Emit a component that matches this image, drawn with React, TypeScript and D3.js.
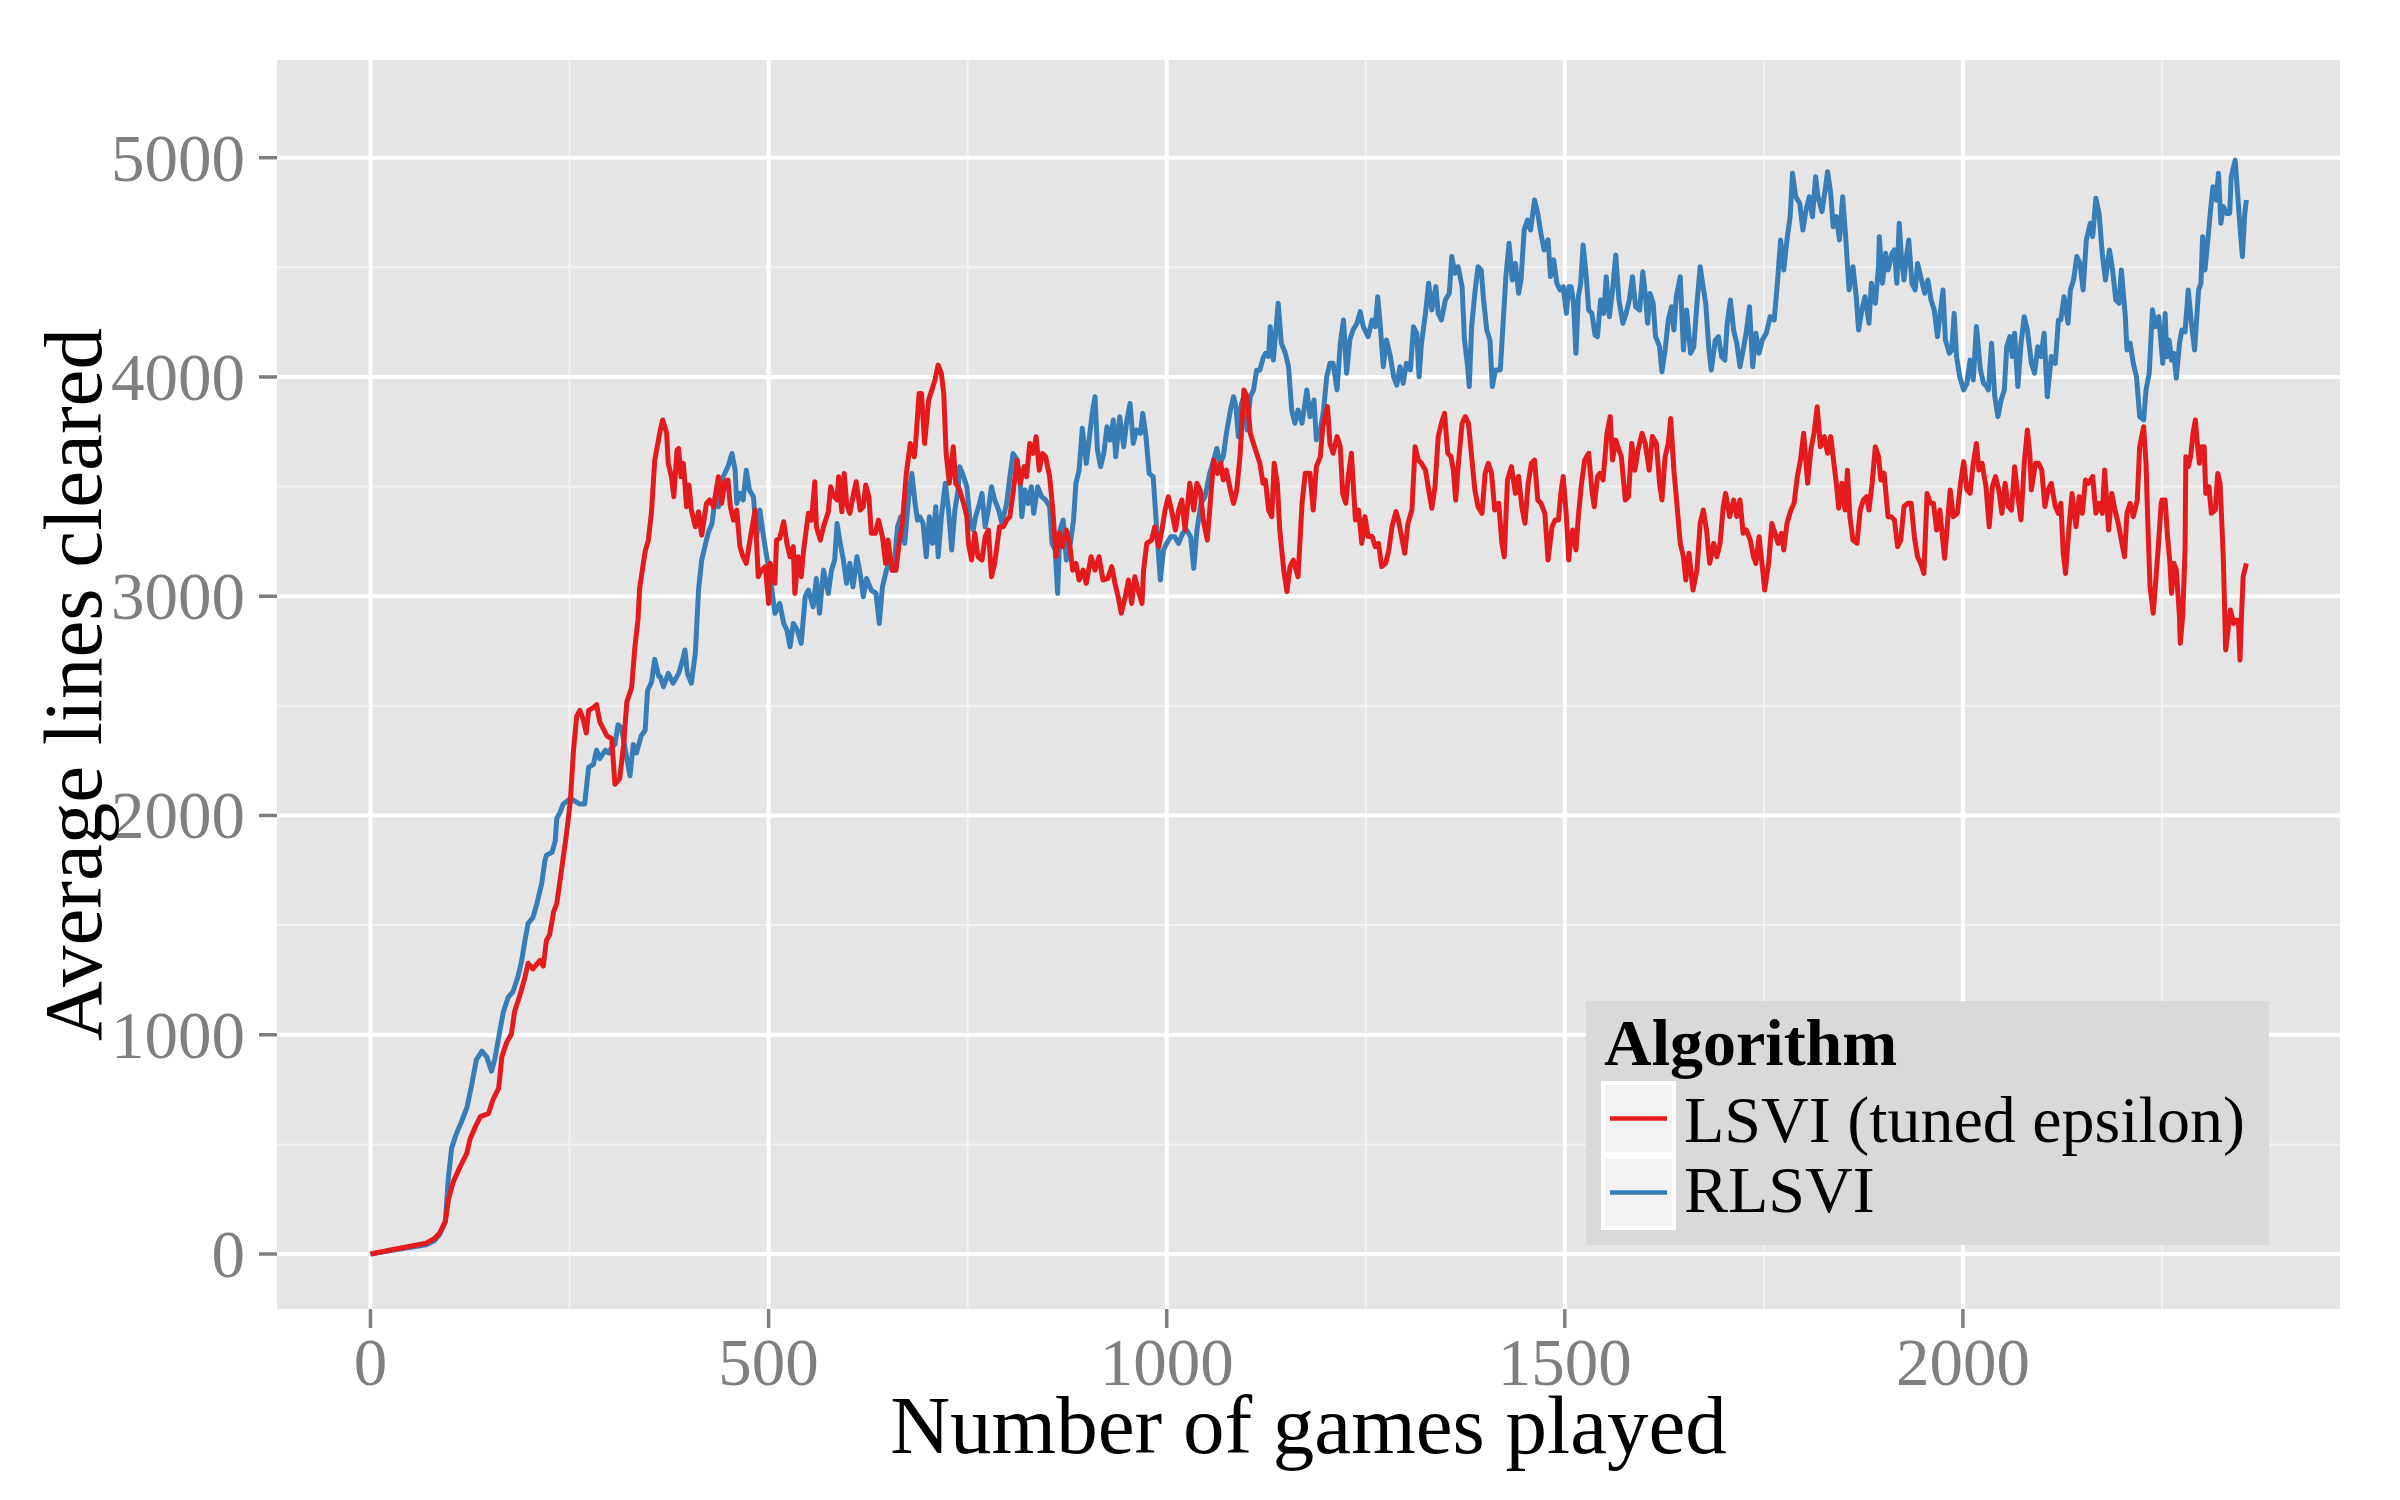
import React from 'react';
import * as d3 from 'd3';

const W = 2400;
const H = 1500;

const xTicks = [0, 500, 1000, 1500, 2000];
const xMinor = [250, 750, 1250, 1750, 2250];
const yTicks = [0, 1000, 2000, 3000, 4000, 5000];
const yMinor = [500, 1500, 2500, 3500, 4500];
const legendTitle = 'Algorithm';
const seriesNames = ['LSVI (tuned epsilon)', 'RLSVI'];
const seriesColors = ['#E41A1C', '#377EB8'];
const xTitle = 'Number of games played';
const yTitle = 'Average lines cleared';

// [games played, average lines cleared]
const lsvi: [number, number][] = [
[0,0],[35,25],[70,49],[80,70],[87,96],[94,148],[98,251],[104,329],[112,394],[121,459],[125,523],[131,575],[138,627],[148,640],[154,705],[161,756],[165,899],[171,964],[177,1003],[181,1106],[188,1184],[194,1262],[198,1326],[204,1300],[213,1339],[217,1313],[221,1430],[225,1456],[230,1560],[234,1598],[238,1702],[242,1806],[246,1909],[251,2065],[255,2298],[259,2453],[263,2479],[267,2440],[271,2376],[274,2479],[280,2492],[284,2505],[288,2427],[297,2363],[303,2350],[307,2142],[313,2168],[318,2324],[322,2518],[328,2583],[332,2764],[336,2894],[338,3036],[345,3205],[349,3256],[353,3386],[357,3619],
[364,3758],[367,3804],[372,3743],[374,3606],[378,3545],[381,3454],[385,3667],[387,3674],[390,3545],[393,3606],[397,3408],[400,3507],[403,3393],[408,3317],[412,3385],[416,3279],[422,3423],[426,3439],[431,3408],[437,3545],[441,3423],[445,3522],[449,3530],[452,3408],[456,3347],[460,3393],[464,3226],[468,3180],[472,3150],[477,3264],[483,3393],[487,3089],[491,3119],[496,3135],[500,2967],[502,3150],[508,3059],[510,3256],[514,3264],[519,3340],[523,3241],[527,3180],[531,3226],[533,3013],[537,3180],[541,3089],[544,3211],[550,3378],[554,3347],[558,3522],[560,3317],[565,3256],[569,3317],[575,3385],[578,3499],[581,3461],[586,3439],[588,3545],[592,3385],[595,3560],[598,3423],[602,3378],[606,3454],[610,3522],[615,3393],[619,3408],[622,3507],[626,3454],[629,3287],[634,3287],[638,3347],[643,3271],[647,3150],[650,3256],[655,3119],[660,3119],[664,3241],[668,3332],[673,3560],[678,3697],[683,3636],[685,3712],[689,3925],[692,3925],[696,3697],[701,3895],[705,3940],[709,3986],[713,4054],[717,4016],[720,3925],[723,3651],[727,3515],[732,3682],[735,3515],
[740,3484],[745,3423],[749,3363],[751,3241],[755,3165],[759,3287],[763,3180],[768,3165],[772,3271],[776,3302],[780,3089],[784,3150],[790,3317],[795,3317],[799,3347],[803,3363],[807,3469],[812,3621],[816,3515],[821,3591],[824,3545],[828,3697],[832,3651],[836,3727],[840,3575],[844,3651],[848,3636],[853,3545],[857,3393],[861,3180],[865,3287],[869,3226],[874,3302],[878,3241],[882,3119],[886,3150],[890,3074],[895,3119],[899,3059],[905,3180],[910,3119],[915,3180],[920,3074],[926,3081],[931,3135],[935,3059],[939,2998],[943,2922],[948,2998],[952,3074],[956,2967],[960,3089],[964,3028],[969,2967],[971,3119],[975,3241],[981,3256],[985,3317],[990,3226],[994,3302],[998,3393],[1002,3454],[1006,3393],[1011,3302],[1015,3393],[1019,3439],[1023,3302],[1029,3515],[1034,3393],[1038,3515],[1042,3484],[1046,3347],[1051,3256],[1055,3439],[1059,3621],[1064,3560],[1068,3606],[1071,3530],[1075,3575],[1080,3484],[1084,3423],[1088,3484],[1092,3636],[1097,3940],[1101,3910],[1105,3743],[1109,3697],[1113,3651],[1117,3606],[1121,3515],
[1124,3530],[1128,3393],[1132,3363],[1135,3606],[1139,3515],[1142,3302],[1147,3120],[1151,3021],[1155,3135],[1159,3165],[1165,3089],[1170,3424],[1174,3561],[1180,3561],[1184,3393],[1188,3591],[1193,3637],[1196,3773],[1199,3819],[1202,3865],[1205,3697],[1209,3652],[1214,3728],[1218,3682],[1221,3469],[1225,3424],[1228,3546],[1232,3652],[1237,3348],[1241,3393],[1245,3241],[1249,3363],[1253,3272],[1258,3272],[1262,3226],[1266,3241],[1270,3135],[1275,3150],[1279,3211],[1283,3317],[1288,3386],[1291,3348],[1295,3272],[1299,3196],[1303,3333],[1308,3393],[1312,3682],[1316,3621],[1320,3606],[1325,3576],[1329,3485],[1333,3401],[1337,3500],[1341,3728],[1345,3789],[1349,3834],[1353,3652],[1357,3637],[1360,3576],[1363,3439],[1366,3591],[1371,3789],[1375,3819],[1379,3789],[1383,3637],[1387,3485],[1391,3408],[1396,3378],[1400,3561],[1404,3606],[1408,3561],[1412,3393],[1417,3424],[1421,3241],[1424,3180],[1428,3530],[1433,3591],[1438,3469],[1442,3546],[1446,3408],[1450,3333],[1454,3515],[1458,3606],[1462,3621],[1466,3439],[1470,3424],[1475,3378],[1479,3165],[1484,3317],[1488,3348],[1492,3348],[1495,3469],[1498,3546],[1502,3363],[1505,3165],
[1506,3211],[1510,3302],[1514,3211],[1517,3363],[1521,3515],[1525,3621],[1530,3652],[1534,3484],[1537,3408],[1541,3545],[1544,3560],[1548,3530],[1553,3743],[1557,3819],[1560,3621],[1564,3712],[1568,3667],[1571,3636],[1576,3439],[1580,3454],[1584,3697],[1588,3575],[1592,3667],[1597,3743],[1601,3697],[1606,3575],[1610,3728],[1615,3697],[1619,3515],[1622,3439],[1626,3636],[1630,3697],[1633,3811],[1637,3575],[1640,3454],[1645,3241],[1649,3180],[1652,3074],[1656,3196],[1661,3028],[1666,3120],[1670,3332],[1674,3393],[1678,3302],[1682,3150],[1687,3241],[1691,3180],[1695,3241],[1699,3408],[1702,3469],[1707,3363],[1712,3439],[1716,3363],[1720,3439],[1724,3287],[1728,3302],[1733,3256],[1737,3180],[1740,3150],[1744,3271],[1749,3104],[1751,3028],[1756,3150],[1760,3332],[1764,3287],[1768,3241],[1772,3287],[1775,3211],[1779,3332],[1784,3393],[1788,3424],[1792,3545],[1796,3621],[1800,3743],[1805,3515],[1809,3667],[1813,3743],[1817,3864],[1821,3682],[1826,3728],[1830,3652],[1834,3728],[1838,3606],[1841,3515],[1844,3401],[1848,3515],[1852,3393],[1855,3575],[1858,3363],[1862,3256],[1867,3241],[1871,3393],[1875,3439],[1879,3454],[1882,3393],[1886,3515],
[1890,3682],[1894,3637],[1897,3530],[1901,3561],[1906,3363],[1910,3363],[1914,3348],[1918,3226],[1922,3256],[1926,3409],[1931,3424],[1935,3424],[1939,3272],[1943,3180],[1947,3150],[1951,3104],[1955,3469],[1959,3424],[1963,3424],[1967,3302],[1971,3393],[1977,3173],[1981,3348],[1984,3485],[1988,3363],[1993,3378],[1997,3515],[2001,3614],[2005,3485],[2009,3469],[2013,3606],[2017,3697],[2020,3576],[2024,3606],[2029,3500],[2033,3317],[2037,3500],[2041,3546],[2045,3485],[2049,3378],[2053,3515],[2057,3409],[2061,3393],[2065,3591],[2069,3454],[2073,3348],[2077,3606],[2081,3758],[2084,3652],[2086,3485],[2091,3606],[2095,3606],[2099,3576],[2103,3409],[2107,3485],[2111,3515],[2116,3409],[2120,3378],[2123,3424],[2126,3196],[2129,3104],[2133,3302],[2137,3469],[2142,3317],[2146,3454],[2150,3378],[2154,3530],[2158,3515],[2163,3546],[2167,3378],[2171,3424],[2175,3378],[2178,3576],[2183,3302],[2187,3469],[2191,3393],[2195,3333],[2199,3256],[2203,3180],[2206,3378],[2210,3424],[2214,3363],[2219,3439],[2222,3682],[2227,3773],[2230,3606],[2232,3363],[2235,3044],[2239,2922],[2242,3059],[2246,3256],[2249,3424],
[2250,3439],[2254,3439],[2257,3271],[2260,3150],[2262,3013],[2265,3150],[2268,3119],[2272,2906],[2273,2785],[2276,2906],[2279,3211],[2280,3636],[2283,3591],[2286,3636],[2289,3743],[2292,3804],[2294,3712],[2297,3606],[2300,3682],[2303,3682],[2305,3469],[2309,3499],[2312,3378],[2317,3393],[2320,3560],[2323,3515],[2327,3180],[2330,2755],[2333,2846],[2336,2937],[2340,2876],[2343,2891],[2346,2891],[2348,2709],[2350,2922],[2352,3089],[2356,3150]
];

const rlsvi: [number, number][] = [
[0,0],[35,22],[70,42],[80,60],[87,90],[94,148],[98,355],[102,484],[108,549],[114,601],[121,666],[127,769],[133,886],[140,925],[146,899],[152,834],[156,886],[163,1028],[167,1106],[173,1171],[179,1197],[185,1262],[190,1339],[194,1430],[198,1508],[204,1534],[209,1598],[215,1689],[219,1793],[221,1819],[228,1832],[232,1883],[234,1987],[238,2013],[242,2052],[251,2078],[257,2065],[263,2052],[269,2052],[274,2220],[280,2233],[284,2298],[288,2259],[295,2298],[299,2285],[303,2311],[307,2324],[311,2414],[315,2401],[319,2324],[322,2259],[326,2181],[330,2324],[334,2285],[340,2363],[345,2389],[348,2570],[353,2609],[357,2712],[362,2635],
[364,2633],[368,2587],[374,2648],[380,2603],[387,2648],[391,2694],[395,2755],[398,2648],[403,2603],[408,2739],[412,3028],[416,3165],[420,3226],[424,3287],[429,3332],[433,3454],[437,3408],[443,3545],[449,3591],[454,3651],[458,3575],[460,3423],[464,3469],[468,3439],[472,3575],[476,3484],[481,3454],[485,3271],[489,3393],[493,3287],[497,3195],[502,3089],[508,2922],[514,2967],[519,2876],[523,2846],[527,2770],[531,2876],[536,2846],[541,2785],[546,2998],[550,3028],[556,2952],[560,3081],[564,2922],[569,3119],[575,3013],[579,3119],[583,3165],[586,3332],[590,3241],[594,3165],[598,3059],[602,3150],[606,3043],[611,3180],[615,3104],[619,2998],[623,3081],[629,3028],[635,3013],[639,2876],[643,3043],[648,3119],[653,3165],[657,3119],[662,3317],[666,3362],[671,3241],[676,3454],[680,3560],[684,3423],[687,3347],[690,3362],[694,3332],[698,3180],[702,3362],[706,3241],[710,3408],[713,3180],[717,3362],[722,3515],[726,3393],[730,3211],[734,3393],[738,3484],
[740,3591],[745,3545],[749,3499],[753,3347],[757,3302],[760,3363],[765,3423],[768,3469],[772,3317],[776,3393],[780,3499],[784,3439],[789,3393],[793,3332],[799,3423],[803,3545],[807,3651],[812,3621],[816,3530],[818,3363],[822,3484],[826,3423],[830,3499],[833,3378],[838,3499],[843,3454],[848,3439],[853,3408],[856,3241],[860,3211],[863,3013],[866,3302],[870,3347],[874,3165],[879,3241],[883,3347],[886,3515],[890,3575],[894,3766],[899,3606],[903,3727],[907,3849],[910,3910],[913,3667],[917,3591],[921,3651],[925,3773],[929,3712],[933,3804],[936,3636],[941,3819],[946,3682],[950,3804],[954,3879],[958,3697],[962,3758],[967,3743],[970,3834],[974,3727],[978,3560],[983,3545],[987,3332],[992,3074],[996,3211],[1000,3241],[1005,3271],[1010,3271],[1015,3241],[1020,3287],[1025,3302],[1030,3271],[1034,3127],[1038,3302],[1043,3423],[1048,3454],[1054,3560],[1059,3621],[1063,3674],[1067,3606],[1071,3636],[1075,3743],[1080,3849],[1084,3910],[1087,3864],[1090,3727],[1094,3879],[1097,3910],[1101,3758],[1105,3910],[1109,3940],[1113,4031],[1117,4031],[1121,4085],
[1124,4108],[1128,4093],[1130,4229],[1134,4077],[1140,4336],[1144,4154],[1149,4108],[1153,4047],[1157,3849],[1161,3789],[1165,3849],[1170,3789],[1176,3941],[1180,3819],[1185,3895],[1188,3713],[1193,3758],[1197,3849],[1201,4001],[1205,4062],[1209,4062],[1214,3941],[1218,4153],[1222,4260],[1226,4017],[1230,4169],[1234,4214],[1239,4245],[1243,4298],[1247,4229],[1253,4184],[1258,4260],[1262,4229],[1265,4366],[1268,4245],[1272,4047],[1276,4169],[1281,4093],[1285,4001],[1289,3963],[1293,4047],[1297,3971],[1301,4062],[1306,4032],[1310,4229],[1314,4199],[1317,4001],[1320,4153],[1325,4290],[1329,4427],[1333,4306],[1338,4412],[1341,4290],[1345,4260],[1350,4351],[1355,4382],[1358,4549],[1362,4473],[1366,4503],[1371,4412],[1374,4169],[1378,4047],[1380,3956],[1383,4229],[1387,4382],[1391,4503],[1395,4488],[1398,4351],[1402,4214],[1406,4169],[1409,3956],[1413,4032],[1419,4032],[1422,4214],[1426,4458],[1430,4610],[1434,4442],[1438,4518],[1442,4382],[1445,4442],[1449,4670],[1453,4716],[1457,4670],[1462,4807],[1466,4746],[1470,4655],[1474,4579],[1479,4625],[1482,4458],[1486,4534],[1490,4427],[1494,4397],[1498,4412],[1502,4290],[1505,4412],
[1508,4412],[1511,4336],[1514,4108],[1517,4366],[1520,4427],[1523,4602],[1527,4457],[1530,4305],[1534,4290],[1538,4191],[1541,4184],[1545,4351],[1549,4290],[1552,4457],[1556,4275],[1560,4397],[1564,4556],[1568,4351],[1573,4245],[1577,4290],[1581,4351],[1585,4457],[1589,4320],[1594,4305],[1598,4480],[1601,4381],[1604,4245],[1607,4381],[1611,4336],[1614,4184],[1619,4138],[1622,4024],[1626,4123],[1630,4260],[1634,4320],[1637,4214],[1640,4366],[1645,4457],[1649,4123],[1653,4305],[1658,4108],[1662,4138],[1666,4336],[1670,4503],[1673,4427],[1677,4336],[1681,4123],[1684,4032],[1689,4168],[1693,4184],[1697,4092],[1701,4077],[1704,4245],[1708,4351],[1712,4214],[1716,4153],[1720,4047],[1724,4123],[1728,4206],[1732,4320],[1736,4047],[1740,4199],[1744,4108],[1748,4168],[1753,4199],[1758,4275],[1763,4260],[1767,4427],[1771,4625],[1775,4488],[1779,4625],[1783,4731],[1786,4929],[1790,4822],[1795,4792],[1799,4670],[1803,4761],[1807,4822],[1811,4731],[1815,4913],[1818,4822],[1823,4754],[1827,4853],[1830,4936],[1834,4837],[1837,4685],[1841,4731],[1845,4625],[1849,4822],[1853,4625],[1857,4397],[1862,4503],[1866,4366],[1869,4214],[1873,4305],[1877,4366],[1882,4245],[1885,4427],
[1890,4336],[1894,4503],[1895,4640],[1899,4427],[1903,4564],[1906,4488],[1911,4564],[1914,4579],[1917,4427],[1920,4701],[1923,4534],[1926,4442],[1929,4549],[1932,4625],[1936,4427],[1940,4397],[1943,4518],[1947,4458],[1952,4382],[1956,4442],[1960,4351],[1964,4306],[1968,4184],[1973,4336],[1975,4397],[1978,4169],[1983,4108],[1986,4123],[1989,4290],[1992,4093],[1996,4001],[2001,3941],[2005,3971],[2009,4077],[2013,3986],[2017,4230],[2022,4032],[2026,3971],[2030,3956],[2032,3941],[2036,4154],[2040,3910],[2044,3819],[2048,3895],[2052,3941],[2055,4138],[2059,4184],[2062,4093],[2065,4199],[2069,3956],[2073,4154],[2077,4275],[2081,4214],[2086,4062],[2090,4017],[2094,4138],[2098,4093],[2102,4199],[2106,3910],[2111,4093],[2116,4062],[2120,4260],[2123,4260],[2127,4366],[2132,4245],[2135,4397],[2139,4442],[2143,4549],[2147,4518],[2151,4397],[2155,4625],[2160,4701],[2163,4640],[2167,4815],[2171,4746],[2175,4564],[2179,4442],[2184,4579],[2188,4488],[2192,4351],[2196,4336],[2199,4488],[2204,4275],[2206,4123],[2210,4154],[2214,4062],[2218,4001],[2222,3819],[2227,3804],[2230,3941],[2234,4017],[2238,4306],[2242,4230],[2246,4275],
[2251,4062],[2254,4290],[2256,4092],[2259,4168],[2262,4077],[2265,4108],[2268,3994],[2272,4153],[2275,4214],[2279,4206],[2283,4397],[2287,4245],[2291,4123],[2296,4397],[2299,4427],[2301,4640],[2304,4488],[2308,4640],[2311,4761],[2314,4868],[2318,4807],[2321,4929],[2324,4701],[2327,4777],[2331,4746],[2335,4746],[2337,4913],[2342,4989],[2345,4837],[2348,4685],[2351,4549],[2354,4746],[2356,4807]
];

const FONT = "'Liberation Serif', 'Times New Roman', Times, serif";

export default function App() {
  React.useEffect(() => {
    document.body.style.margin = '0';
  }, []);

  const panel = { left: 277, right: 2340, top: 60, bottom: 1309 };
  const x = d3.scaleLinear().domain([-117.4, 2473.6]).range([panel.left, panel.right]);
  const y = d3.scaleLinear().domain([-250.8, 5445.6]).range([panel.bottom, panel.top]);
  const line = d3
    .line<[number, number]>()
    .x((d) => x(d[0]))
    .y((d) => y(d[1]));

  const series = [rlsvi, lsvi];
  const seriesColor = [seriesColors[1], seriesColors[0]];

  const tickGrey = '#7f7f7f';
  const tickFont = 67;

  const legend = { x: 1586, y: 1001, w: 683, h: 244 };
  const keyX = 1603;
  const keyY = [1083, 1157];
  const keySize = 71;

  return (
    <svg
      width={W}
      height={H}
      viewBox={`0 0 ${W} ${H}`}
      style={{ display: 'block', position: 'absolute', left: 0, top: 0, background: '#ffffff' }}
      fontFamily={FONT}
    >
      <rect x={0} y={0} width={W} height={H} fill="#ffffff" />
      <rect
        x={panel.left}
        y={panel.top}
        width={panel.right - panel.left}
        height={panel.bottom - panel.top}
        fill="#e5e5e5"
      />
      {xMinor.map((v) => (
        <line key={'xm' + v} x1={x(v)} x2={x(v)} y1={panel.top} y2={panel.bottom} stroke="#f2f2f2" strokeWidth={2} />
      ))}
      {yMinor.map((v) => (
        <line key={'ym' + v} x1={panel.left} x2={panel.right} y1={y(v)} y2={y(v)} stroke="#f2f2f2" strokeWidth={2} />
      ))}
      {xTicks.map((v) => (
        <line key={'xM' + v} x1={x(v)} x2={x(v)} y1={panel.top} y2={panel.bottom} stroke="#ffffff" strokeWidth={4} />
      ))}
      {yTicks.map((v) => (
        <line key={'yM' + v} x1={panel.left} x2={panel.right} y1={y(v)} y2={y(v)} stroke="#ffffff" strokeWidth={4} />
      ))}

      {series.map((s, i) => (
        <path
          key={'s' + i}
          d={line(s) || ''}
          fill="none"
          stroke={seriesColor[i]}
          strokeWidth={5}
          strokeLinejoin="round"
          strokeLinecap="butt"
        />
      ))}

      {yTicks.map((v) => (
        <g key={'yt' + v}>
          <line x1={panel.left - 18} x2={panel.left} y1={y(v)} y2={y(v)} stroke={tickGrey} strokeWidth={3.5} />
          <text x={245} y={y(v) + 23} textAnchor="end" fontSize={tickFont} fill={tickGrey}>
            {v}
          </text>
        </g>
      ))}
      {xTicks.map((v) => (
        <g key={'xt' + v}>
          <line x1={x(v)} x2={x(v)} y1={panel.bottom} y2={panel.bottom + 19} stroke={tickGrey} strokeWidth={3.5} />
          <text x={x(v)} y={1385} textAnchor="middle" fontSize={tickFont} fill={tickGrey}>
            {v}
          </text>
        </g>
      ))}

      <text x={(panel.left + panel.right) / 2} y={1453} textAnchor="middle" fontSize={83} fill="#000000">
        {xTitle}
      </text>
      <text
        transform={`translate(101, ${(panel.top + panel.bottom) / 2}) rotate(-90)`}
        textAnchor="middle"
        fontSize={83}
        fill="#000000"
      >
        {yTitle}
      </text>

      <rect x={legend.x} y={legend.y} width={legend.w} height={legend.h} fill="#d9d9d9" />
      <text x={1604} y={1065} fontSize={66} fontWeight="bold" fill="#000000">
        {legendTitle}
      </text>
      {seriesNames.map((name, i) => (
        <g key={'lg' + i}>
          <rect x={keyX} y={keyY[i]} width={keySize} height={keySize} fill="#f2f2f2" stroke="#ffffff" strokeWidth={4} />
          <line
            x1={keyX + 7}
            x2={keyX + keySize - 7}
            y1={keyY[i] + keySize / 2}
            y2={keyY[i] + keySize / 2}
            stroke={seriesColors[i]}
            strokeWidth={4.5}
          />
          <text x={1684} y={[1142, 1212][i]} fontSize={66} fill="#000000">
            {name}
          </text>
        </g>
      ))}
    </svg>
  );
}
